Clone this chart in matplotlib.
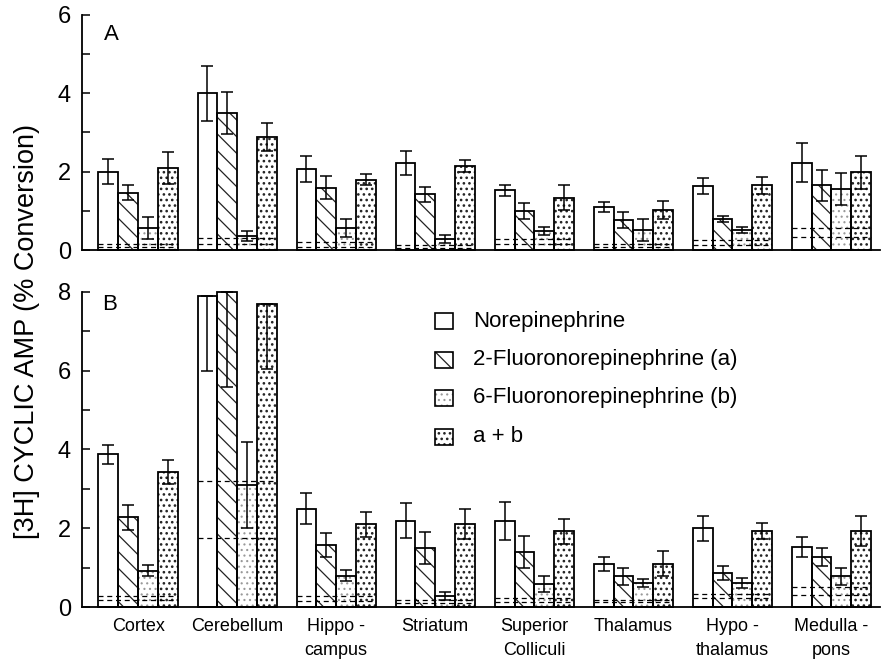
import matplotlib
matplotlib.use('Agg')
import matplotlib.pyplot as plt
import numpy as np
from matplotlib.patches import Rectangle
from matplotlib.ticker import MultipleLocator

plt.rcParams['font.family'] = ['Liberation Sans', 'DejaVu Sans']
plt.rcParams['hatch.linewidth'] = 0.9

regions = ['Cortex', 'Cerebellum', 'Hippo -\ncampus', 'Striatum',
           'Superior\nColliculi', 'Thalamus', 'Hypo -\nthalamus', 'Medulla -\npons']
series = ['Norepinephrine', '2-Fluoronorepinephrine (a)',
          '6-Fluoronorepinephrine (b)', 'a + b']

# Panel A
a_ne = [2.00, 4.00, 2.07, 2.22, 1.52, 1.10, 1.63, 2.23]
a_ne_err = [0.32, 0.70, 0.33, 0.31, 0.14, 0.13, 0.20, 0.50]
a_2f = [1.46, 3.50, 1.59, 1.42, 1.00, 0.77, 0.80, 1.65]
a_2f_err = [0.19, 0.53, 0.30, 0.20, 0.21, 0.21, 0.08, 0.39]
a_6f = [0.57, 0.36, 0.56, 0.29, 0.49, 0.50, 0.52, 1.55]
a_6f_err = [0.28, 0.13, 0.22, 0.10, 0.10, 0.28, 0.08, 0.41]
a_ab = [2.10, 2.88, 1.80, 2.14, 1.33, 1.03, 1.65, 1.98]
a_ab_err = [0.41, 0.36, 0.13, 0.16, 0.32, 0.23, 0.21, 0.41]
a_basal_hi = [0.15, 0.30, 0.20, 0.12, 0.28, 0.15, 0.25, 0.55]
a_basal_lo = [0.07, 0.15, 0.08, 0.06, 0.15, 0.08, 0.13, 0.33]

# Panel B
b_ne = [3.88, 7.90, 2.50, 2.19, 2.19, 1.10, 2.00, 1.52]
b_ne_err_lo = [0.24, 1.90, 0.40, 0.45, 0.48, 0.18, 0.32, 0.26]
b_ne_err_hi = [0.24, 0.00, 0.40, 0.45, 0.48, 0.18, 0.32, 0.26]
b_2f = [2.28, 8.00, 1.57, 1.50, 1.40, 0.78, 0.86, 1.27]
b_2f_err_lo = [0.32, 2.42, 0.30, 0.41, 0.41, 0.22, 0.17, 0.22]
b_2f_err_hi = [0.32, 0.00, 0.30, 0.41, 0.41, 0.22, 0.17, 0.22]
b_6f = [0.92, 3.10, 0.80, 0.28, 0.58, 0.60, 0.61, 0.78]
b_6f_err_lo = [0.14, 1.10, 0.13, 0.10, 0.20, 0.10, 0.13, 0.22]
b_6f_err_hi = [0.14, 1.10, 0.13, 0.10, 0.20, 0.10, 0.13, 0.22]
b_ab = [3.43, 7.70, 2.10, 2.10, 1.92, 1.10, 1.93, 1.93]
b_ab_err_lo = [0.30, 1.66, 0.32, 0.38, 0.31, 0.32, 0.21, 0.39]
b_ab_err_hi = [0.30, 0.00, 0.32, 0.38, 0.31, 0.32, 0.21, 0.39]
b_basal_hi = [0.28, 3.20, 0.28, 0.18, 0.22, 0.18, 0.32, 0.52]
b_basal_lo = [0.18, 1.76, 0.15, 0.10, 0.13, 0.12, 0.22, 0.30]

# (hatch, hatch colour, hatch linewidth)
styles = [(None, 'black', 0.9), ('\\\\', '#222222', 0.9),
          ('...', '#999999', 0.8), ('...', '#222222', 1.1)]
offsets = [-0.3, -0.1, 0.1, 0.3]
W = 0.2


def set_hlw(patch, lw):
    if hasattr(patch, 'set_hatch_linewidth'):
        patch.set_hatch_linewidth(lw)
    else:
        patch._hatch_linewidth = lw


def draw_panel(ax, vals, lo, hi, bh, bl, ytop):
    x = np.arange(len(regions))
    for k in range(4):
        xs = x + offsets[k]
        h, hc, hlw = styles[k]
        cont = ax.bar(xs, vals[k], W, color='white', edgecolor=hc, hatch=h,
                      linewidth=0, zorder=2, clip_on=False)
        for p in cont:
            set_hlw(p, hlw)
        ax.bar(xs, vals[k], W, fill=False, edgecolor='black', linewidth=1.3,
               zorder=3, clip_on=False)
        ax.errorbar(xs, vals[k], yerr=[lo[k], hi[k]], fmt='none', ecolor='black',
                    elinewidth=1.1, capsize=4, capthick=1.1, zorder=4, clip_on=False)
    for i in range(len(regions)):
        ax.hlines([bh[i], bl[i]], x[i] - 0.4, x[i] + 0.4, colors='black',
                  linestyles=(0, (4, 3)), linewidth=0.9, zorder=3.5)
    ax.set_xlim(-0.566, 7.49)
    ax.set_ylim(0, ytop)
    for s in ['top', 'right']:
        ax.spines[s].set_visible(False)
    for s in ['left', 'bottom']:
        ax.spines[s].set_linewidth(1.3)
    ax.yaxis.set_major_locator(MultipleLocator(2))
    ax.yaxis.set_minor_locator(MultipleLocator(1))
    ax.tick_params(axis='y', which='both', direction='in', length=6, width=1.1,
                   labelsize=17, pad=8)
    ax.set_xticks(x)
    ax.tick_params(axis='x', length=0)


fig = plt.figure(figsize=(8.84, 6.6), dpi=100)
axA = fig.add_axes([0.0928, 0.6212, 0.9027, 0.3561])
axB = fig.add_axes([0.0928, 0.0803, 0.9027, 0.4773])

draw_panel(axA, [a_ne, a_2f, a_6f, a_ab],
           [a_ne_err, a_2f_err, a_6f_err, a_ab_err],
           [a_ne_err, a_2f_err, a_6f_err, a_ab_err],
           a_basal_hi, a_basal_lo, 6)
axA.set_xticklabels([])

draw_panel(axB, [b_ne, b_2f, b_6f, b_ab],
           [b_ne_err_lo, b_2f_err_lo, b_6f_err_lo, b_ab_err_lo],
           [b_ne_err_hi, b_2f_err_hi, b_6f_err_hi, b_ab_err_hi],
           b_basal_hi, b_basal_lo, 8)
axB.set_xticklabels(regions, fontsize=13, linespacing=1.5)
axB.tick_params(axis='x', pad=8)

fig.text(0.030, 0.497, '[3H] CYCLIC AMP (% Conversion)', rotation=90,
         ha='center', va='center', fontsize=19.5)
fig.text(0.1256, 0.947, 'A', ha='center', va='center', fontsize=16)
fig.text(0.124, 0.538, 'B', ha='center', va='center', fontsize=16)

# Legend
W_IMG, H_IMG = 884, 660
row_y = [321, 360, 398, 437]
for k in range(4):
    h, hc, hlw = styles[k]
    x0 = 435 / W_IMG
    y0 = 1 - (row_y[k] + 8) / H_IMG
    bw = 18 / W_IMG
    bhh = 16 / H_IMG
    if h:
        r = Rectangle((x0, y0), bw, bhh, transform=fig.transFigure,
                      facecolor='white', edgecolor=hc, hatch=h, linewidth=0)
        set_hlw(r, hlw)
        fig.add_artist(r)
    fig.add_artist(Rectangle((x0, y0), bw, bhh, transform=fig.transFigure,
                             fill=False, edgecolor='black', linewidth=1.2))
    fig.text(473 / W_IMG, 1 - row_y[k] / H_IMG, series[k], ha='left', va='center',
             fontsize=16)

fig.savefig('out.png', dpi=100)
